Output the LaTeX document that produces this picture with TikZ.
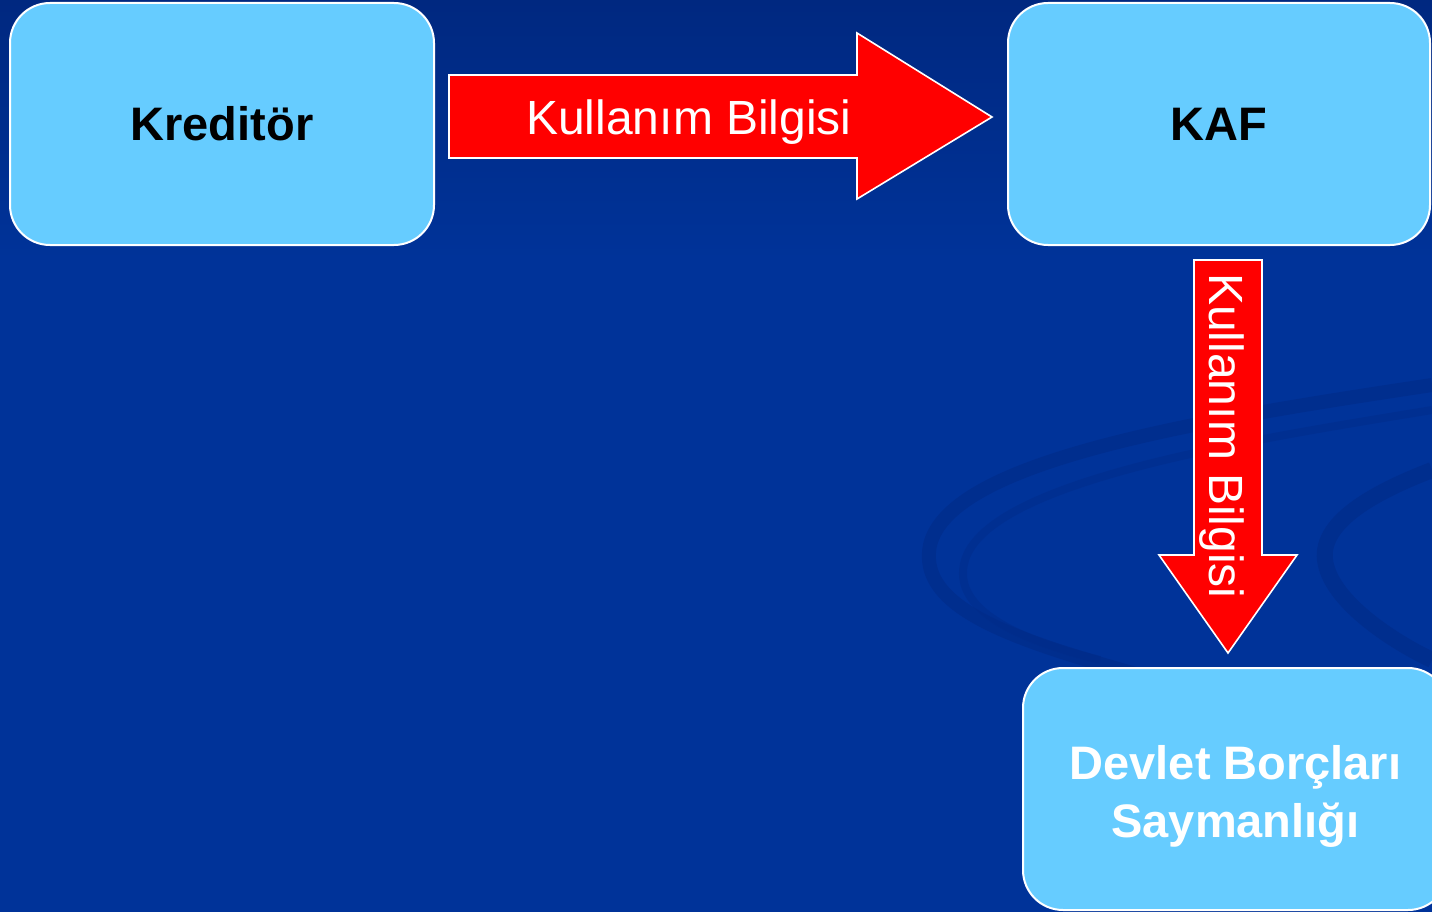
\documentclass[tikz,border=0pt]{standalone}
\usepackage{fontspec}
\setmainfont{Liberation Sans}
\definecolor{bgtop}{RGB}{0,40,128}
\definecolor{bgmain}{RGB}{0,51,153}
\definecolor{swirl}{RGB}{0,44,138}
\definecolor{boxfill}{RGB}{102,204,255}
\definecolor{arrowred}{RGB}{255,0,0}
\tikzset{
  stagebox/.style={draw=white, line width=2pt, fill=boxfill, rounded corners=40pt,
    align=center, font=\fontsize{47}{58}\selectfont\bfseries},
  boxtext/.style={align=center, font=\fontsize{47}{58}\selectfont\bfseries, inner sep=0pt},
  blockarrow/.style={draw=white, line width=1.6pt, fill=arrowred, line join=miter},
  arrowtext/.style={text=white, font=\fontsize{48}{56}\selectfont, inner sep=0pt, anchor=base},
}
\begin{document}
\begin{tikzpicture}[x=1pt,y=-1pt]
\useasboundingbox (0,0) rectangle (1432,912);
\clip (0,0) rectangle (1432,912);
% background
\shade[top color=bgtop, bottom color=bgmain] (0,0) rectangle (1432,260);
\fill[bgmain] (0,259) rectangle (1432,912);
% faint swirls
\draw[swirl, line width=14pt, opacity=0.7] (1432,385) .. controls (1200,420) and (950,460) .. (930,545)
  .. controls (915,620) and (1050,650) .. (1230,700);
\draw[swirl, line width=8pt, opacity=0.5] (1432,410) .. controls (1250,440) and (990,480) .. (965,560)
  .. controls (950,610) and (1020,640) .. (1100,660);
\draw[swirl, line width=16pt, opacity=0.7] (1432,470) .. controls (1380,490) and (1320,520) .. (1325,560)
  .. controls (1330,600) and (1390,640) .. (1432,660);
\draw[swirl, line width=6pt, opacity=0.5] (1100,870) .. controls (1200,840) and (1300,820) .. (1432,800);
% boxes
\node[stagebox, minimum width=424pt, minimum height=242pt, text=black] (kred) at (222,124) {Kreditör};
\node[stagebox, minimum width=422pt, minimum height=242pt, text=black] (kaf) at (1219,124) {KAF};
\node[stagebox, minimum width=425pt, minimum height=242pt] (dbs) at (1235.5,789) {};
\node[boxtext, text=white] (dbstext) at (1235.5,796) {Devlet Borçları\\Saymanlığı};
% horizontal arrow
\draw[blockarrow] (449,75) -- (857,75) -- (857,33) -- (992,117) -- (857,199) -- (857,158) -- (449,158) -- cycle;
\node[arrowtext] (lab1) at (689,135) {Kullanım Bilgisi};
% vertical arrow
\draw[blockarrow] (1194,260) -- (1262,260) -- (1262,555) -- (1297,555) -- (1228,653) -- (1159,555) -- (1194,555) -- cycle;
\node[arrowtext, rotate=-90] (lab2) at (1209,436) {Kullanım Bilgisi};
\end{tikzpicture}
\end{document}
